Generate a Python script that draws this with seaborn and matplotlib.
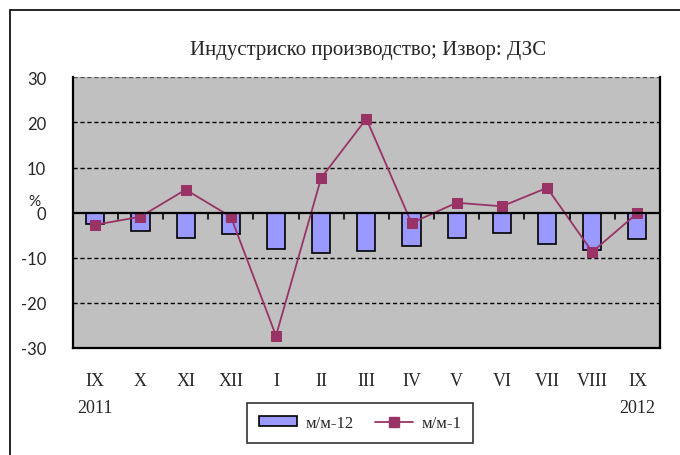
import numpy as np
import pandas as pd
import matplotlib
matplotlib.use("Agg")
import matplotlib.pyplot as plt
import seaborn as sns
from matplotlib.patches import Rectangle
from matplotlib.lines import Line2D

months = ["IX", "X", "XI", "XII", "I", "II", "III", "IV", "V", "VI", "VII", "VIII", "IX"]
years = ["2011", "", "", "", "", "", "", "", "", "", "", "", "2012"]
yoy = [-2.6, -4.0, -5.6, -4.8, -8.1, -8.9, -8.6, -7.4, -5.6, -4.4, -7.0, -8.2, -5.9]   # м/м-12
mom = [-2.7, -0.9, 5.1, -0.9, -27.3, 7.7, 20.8, -2.3, 2.2, 1.4, 5.5, -8.7, -0.1]     # м/м-1
yticks = [-30, -20, -10, 0, 10, 20, 30]

df = pd.DataFrame({"pos": np.arange(len(months)), "month": months, "yoy": yoy, "mom": mom})

sns.set_style("white")
plt.rcParams["font.family"] = ["Liberation Serif", "DejaVu Serif"]

bar_col = "#9999FF"
line_col = "#993366"

fig = plt.figure(figsize=(6.8, 4.56), dpi=100)
# outer chart border
fig.add_artist(Rectangle((10/680, -0.1), 2, (456-11)/456 + 0.1, transform=fig.transFigure,
                         fill=False, edgecolor="black", lw=1.2))

ax = fig.add_axes([72.7/680, (456-349)/456, (660-72.7)/680, (349-78.3)/456])
ax.set_facecolor("#C0C0C0")

sns.barplot(data=df, x="pos", y="yoy", color=bar_col, edgecolor="black", linewidth=1.2,
            width=0.4, saturation=1, ax=ax, native_scale=True, zorder=3)
sns.lineplot(data=df, x="pos", y="mom", color=line_col, lw=1.3, marker="s", markersize=7,
             markeredgecolor=line_col, ax=ax, zorder=4)

ax.set_xlim(-0.5, len(months) - 0.5)
ax.set_ylim(-30, 30)
ax.set_yticks(yticks)
ax.set_yticklabels([str(t) for t in yticks], family="Lato", fontsize=12)
ax.tick_params(axis="y", length=0, pad=19)
for t in [10, 20, -10, -20]:
    ax.axhline(t, color="black", ls=(0, (3, 2)), lw=1, zorder=1)
ax.axhline(30, color="#555555", ls=(0, (3, 2)), lw=1, zorder=1)
ax.axhline(0, color="black", lw=1.6, zorder=5)
# category ticks on the zero line
for b in np.arange(0.5, len(months) - 1, 1):
    ax.plot([b, b], [0, -1.3], color="black", lw=1.2, zorder=5)

ax.set_xticks([])
ax.set_xlabel("")
ax.set_ylabel("")
for side in ["left", "right", "bottom"]:
    ax.spines[side].set_color("black")
    ax.spines[side].set_linewidth(1.6)
ax.spines["top"].set_visible(False)

tr = ax.get_xaxis_transform()
for i, (m, yr) in enumerate(zip(months, years)):
    ax.text(i, -0.12, m, transform=tr, ha="center", va="center", fontsize=13)
    if yr:
        ax.text(i, -0.22, yr, transform=tr, ha="center", va="center", fontsize=13)

fig.text(34/680, 1 - 202/456, "%", family="Lato", fontsize=11, ha="center", va="center")
fig.text(368/680, 1 - 50/456, "Индустриско производство; Извор: ДЗС", ha="center", va="center",
         fontsize=15)

handles = [Rectangle((0, 0), 1, 1, facecolor=bar_col, edgecolor="black", lw=1.2),
           Line2D([], [], color=line_col, lw=1.3, marker="s", markersize=7)]
leg = fig.legend(handles, ["м/м-12", "м/м-1"], loc="center", bbox_to_anchor=(360/680, 1 - 424/456),
                 ncol=2, frameon=True, fancybox=False, fontsize=12, handlelength=2.3,
                 handleheight=0.5, handletextpad=0.5, columnspacing=1.3, borderpad=0.7,
                 edgecolor="black")
leg.get_frame().set_linewidth(1.2)

fig.savefig("out.png", dpi=100)
